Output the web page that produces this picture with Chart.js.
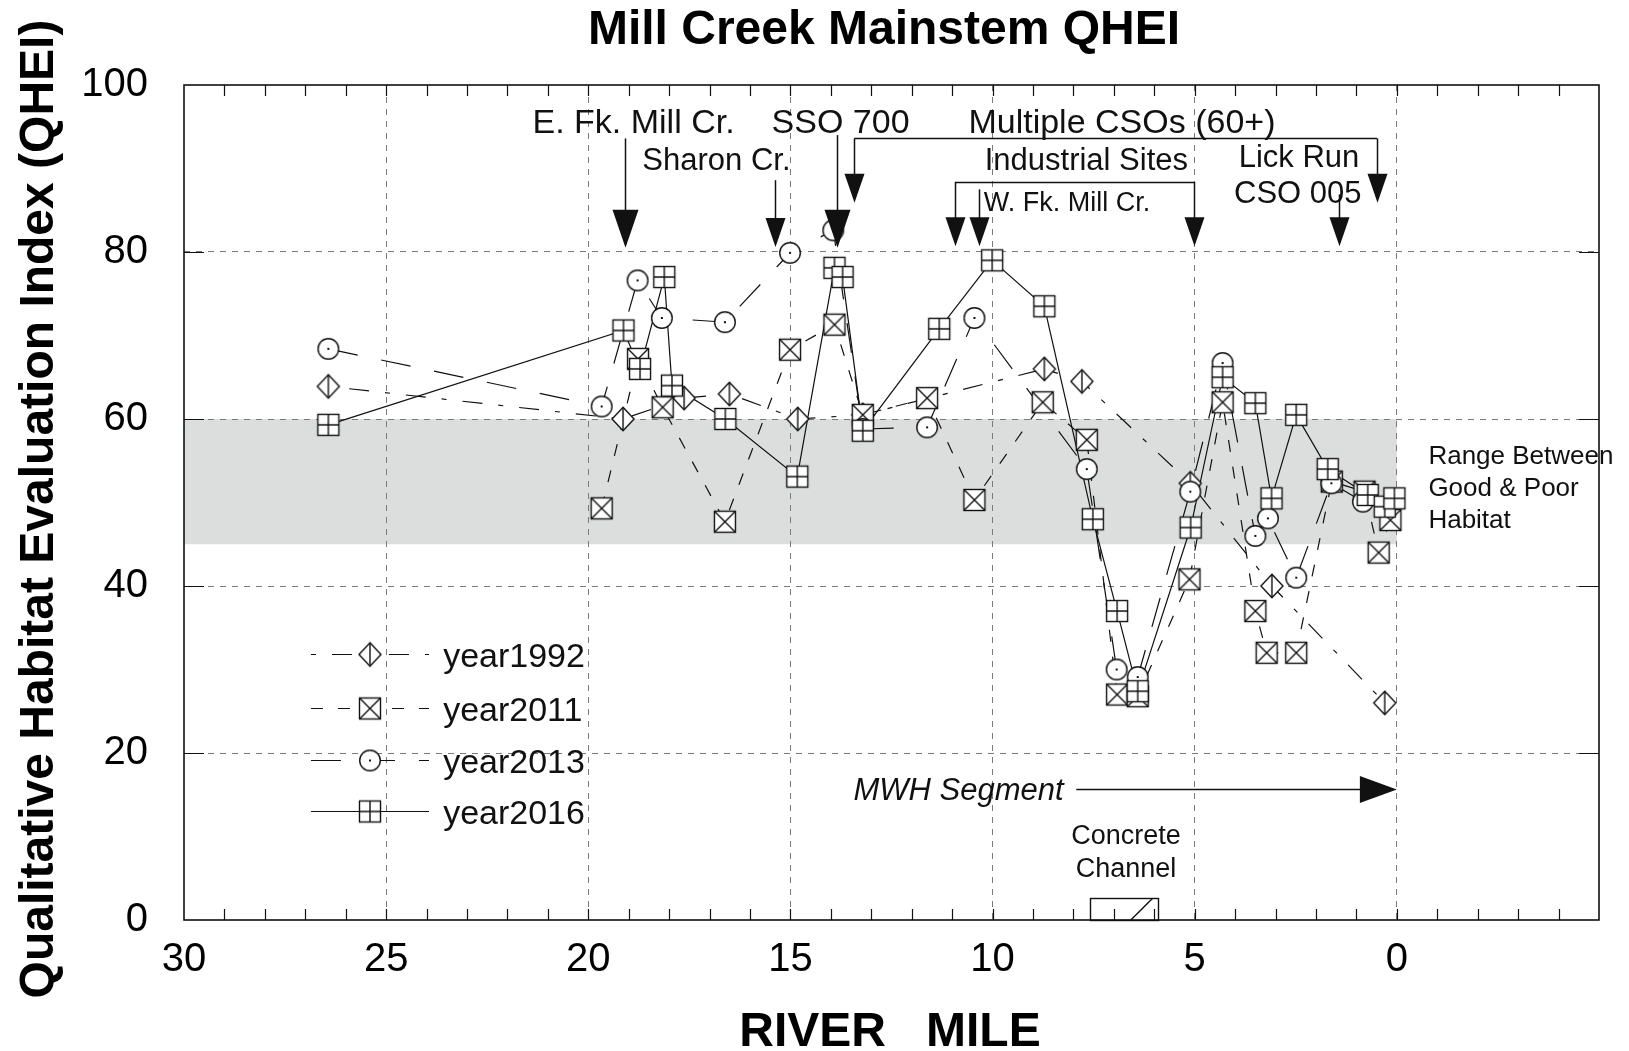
<!DOCTYPE html>
<html>
<head>
<meta charset="utf-8">
<script src="https://cdn.jsdelivr.net/npm/chart.js@4.4.1/dist/chart.umd.min.js"></script>
<style>
html,body{margin:0;padding:0;background:#fff;}
#wrap{width:1629px;height:1051px;position:relative;}
canvas{display:block;}
</style>
</head>
<body>
<div id="wrap"><canvas id="c" width="1629" height="1051"></canvas></div>
<script>
// ---------------- DATA ----------------
const seriesNames = ['year1992', 'year2011', 'year2013', 'year2016'];

const miles1992 = [26.43, 19.14, 17.63, 16.51, 14.82, 13.21, 8.72, 7.79, 5.11, 3.09, 0.30];
const qhei1992  = [63.9, 60.0, 62.5, 63.0, 60.0, 60.5, 66.0, 64.5, 52.3, 40.0, 26.0];

const miles2011 = [19.67, 18.77, 18.16, 16.62, 15.01, 13.91, 13.21, 11.62, 10.45, 8.76, 7.67, 6.92, 6.41, 5.13, 4.31, 3.50, 3.22, 2.49, 1.61, 0.80, 0.45, 0.16];
const qhei2011  = [49.3, 67.2, 61.4, 47.7, 68.3, 71.3, 60.5, 62.5, 50.3, 62.0, 57.5, 27.0, 26.8, 40.8, 62.0, 37.0, 32.0, 32.0, 52.5, 51.3, 44.0, 47.9];

const miles2013 = [26.43, 19.67, 18.78, 18.18, 16.62, 15.01, 13.94, 13.21, 11.62, 10.45, 7.67, 6.93, 6.41, 5.11, 4.31, 3.50, 3.19, 2.49, 1.62, 0.84];
const qhei2013  = [68.4, 61.5, 76.6, 72.1, 71.6, 79.9, 82.6, 58.8, 59.0, 72.1, 54.0, 30.0, 29.1, 51.3, 66.7, 46.0, 48.1, 41.0, 52.3, 50.1];

const miles2016 = [26.43, 19.13, 18.72, 18.12, 17.93, 16.61, 14.83, 13.91, 13.71, 13.21, 11.32, 10.01, 8.72, 7.52, 6.92, 6.41, 5.10, 4.31, 3.50, 3.10, 2.49, 1.71, 0.72, 0.30, 0.06];
const qhei2016  = [59.3, 70.6, 66.0, 77.0, 64.0, 60.0, 53.1, 78.1, 77.0, 58.6, 70.8, 79.0, 73.5, 48.0, 37.0, 27.4, 47.0, 65.0, 61.9, 50.5, 60.5, 54.0, 50.9, 49.5, 50.5];

const xTickValues = [30, 25, 20, 15, 10, 5, 0];
const yTickValues = [0, 20, 40, 60, 80, 100];

// shaded range between good & poor habitat
const bandMiles = [30, 0];
const bandQhei  = [45, 60];
const bandText  = ['Range Between', 'Good & Poor', 'Habitat'];

// annotations (river mile / QHEI units)
const noteTexts  = ['E. Fk. Mill Cr.', 'SSO 700', 'Multiple CSOs (60+)', 'Sharon Cr.', 'Industrial Sites', 'W. Fk. Mill Cr.', 'Lick Run', 'CSO 005'];
const noteMiles  = [18.88, 13.76, 6.80, 16.83, 7.68, 8.16, 2.42, 2.45];
const noteLevels = [94.2, 94.2, 94.2, 89.8, 89.8, 84.9, 90.2, 85.9];

const arrowMiles = [19.09, 15.39, 13.85, 13.42, 0.49, 10.93, 5.01, 10.33, 1.43];
const arrowTops  = [93.6, 88.6, 94.0, 93.6, 93.6, 88.4, 88.4, 87.5, 86.9];
const arrowTips  = [80.5, 80.6, 80.5, 85.9, 85.9, 80.7, 80.7, 80.7, 80.7];
const bracketFrom = [13.42, 10.93];
const bracketTo   = [0.49, 5.01];
const bracketLevel = [93.6, 88.4];

const mwhText = 'MWH Segment';
const mwhTextMile = 10.84, mwhArrowFrom = 7.93, mwhArrowTo = 0, mwhLevel = 15.7;
const concreteText = ['Concrete', 'Channel'];
const concreteTextMile = 6.70, concreteTextLevels = [10.0, 6.0];
const concreteBoxMiles = [7.58, 5.91], concreteBoxQhei = [0, 2.6];
const concreteDiagMiles = [6.58, 6.04];

// ---------------- STYLE ----------------
const FONT = '"Liberation Sans", Arial, Helvetica, sans-serif';
const markerKinds = ['diamond', 'xsquare', 'circle', 'plussquare'];
const dashes = [[5, 16, 20, 16], [12, 15], [30, 24], []];
const legendRows = [31.8, 25.4, 19.2, 13.0];
const legendLine = [26.86, 23.94], legendMarkerMile = 25.4, legendTextMile = 23.59;

function drawMarker(g, kind, cx, cy) {
  g.save();
  g.translate(cx, cy);
  g.setLineDash([]);
  g.lineWidth = 1.4;
  g.strokeStyle = '#111';
  g.fillStyle = '#fff';
  if (kind === 'diamond') {
    const w = 11, h = 11.8;
    g.beginPath(); g.moveTo(0, -h); g.lineTo(w, 0); g.lineTo(0, h); g.lineTo(-w, 0); g.closePath();
    g.fill(); g.stroke();
    g.beginPath(); g.moveTo(0, -h); g.lineTo(0, h); g.stroke();
  } else if (kind === 'xsquare' || kind === 'plussquare') {
    const r = 10.5;
    g.fillRect(-r, -r, 2 * r, 2 * r); g.strokeRect(-r, -r, 2 * r, 2 * r);
    g.beginPath();
    if (kind === 'xsquare') { g.moveTo(-r, -r); g.lineTo(r, r); g.moveTo(r, -r); g.lineTo(-r, r); }
    else { g.moveTo(0, -r); g.lineTo(0, r); g.moveTo(-r, 0); g.lineTo(r, 0); }
    g.stroke();
  } else if (kind === 'circle') {
    g.beginPath(); g.arc(0, 0, 10.3, 0, Math.PI * 2); g.fill(); g.stroke();
    g.fillStyle = '#111'; g.fillRect(-1, -1, 2, 2);
  }
  g.restore();
}
function markerCanvas(kind) {
  const c = document.createElement('canvas');
  c.width = 30; c.height = 30;
  drawMarker(c.getContext('2d'), kind, 15, 15);
  return c;
}
const markerImgs = markerKinds.map(markerCanvas);

const milesAll = [miles1992, miles2011, miles2013, miles2016];
const qheiAll = [qhei1992, qhei2011, qhei2013, qhei2016];
const pts = milesAll.map((ms, i) => ms.map((m, j) => ({ x: m, y: qheiAll[i][j] })));

const datasets = [];
seriesNames.forEach((name, i) => {
  datasets.push({
    label: name + ' line', data: pts[i], showLine: true, borderColor: '#111', borderWidth: 1.2,
    borderDash: dashes[i], pointRadius: 0, pointHoverRadius: 0, tension: 0, fill: false, order: 20 + i
  });
});
seriesNames.forEach((name, i) => {
  datasets.push({
    label: name, data: pts[i], showLine: false, pointStyle: markerImgs[i], pointRadius: 11,
    pointHoverRadius: 11, order: 3 - i
  });
});

function arrowDown(ctx, x, yTop, yTip, hw, hh) {
  ctx.beginPath(); ctx.moveTo(x, yTop); ctx.lineTo(x, yTip - hh + 2); ctx.stroke();
  ctx.beginPath(); ctx.moveTo(x - hw / 2, yTip - hh); ctx.lineTo(x + hw / 2, yTip - hh); ctx.lineTo(x, yTip); ctx.closePath(); ctx.fill();
}

const decor = {
  id: 'decor',
  beforeDraw(chart) {
    const ctx = chart.ctx, xs = chart.scales.x, ys = chart.scales.y;
    ctx.save();
    ctx.fillStyle = '#fff'; ctx.fillRect(0, 0, chart.width, chart.height);
    const xa = xs.getPixelForValue(bandMiles[0]), xb = xs.getPixelForValue(bandMiles[1]);
    const ya = ys.getPixelForValue(bandQhei[1]), yb = ys.getPixelForValue(bandQhei[0]);
    ctx.fillStyle = '#dcdddd';
    ctx.fillRect(Math.min(xa, xb), ya, Math.abs(xb - xa), yb - ya);
    ctx.restore();
  },
  afterDatasetsDraw(chart) {
    const ctx = chart.ctx, a = chart.chartArea, xs = chart.scales.x, ys = chart.scales.y;
    const X = v => xs.getPixelForValue(v), Y = v => ys.getPixelForValue(v);
    ctx.save();
    ctx.strokeStyle = '#111'; ctx.fillStyle = '#000'; ctx.setLineDash([]);
    // frame
    ctx.lineWidth = 1.6;
    ctx.strokeRect(a.left, a.top, a.right - a.left, a.bottom - a.top);
    // minor ticks every mile, inward, top & bottom
    ctx.lineWidth = 1.2;
    ctx.beginPath();
    for (let m = xs.min + 1; m < xs.max; m++) {
      const px = Math.round(X(m)) + 0.5;
      ctx.moveTo(px, a.bottom); ctx.lineTo(px, a.bottom - 11);
      ctx.moveTo(px, a.top); ctx.lineTo(px, a.top + 11);
    }
    yTickValues.forEach(v => {
      if (v <= ys.min || v >= ys.max) return;
      const py = Math.round(Y(v)) + 0.5;
      ctx.moveTo(a.left, py); ctx.lineTo(a.left + 20, py);
      ctx.moveTo(a.right, py); ctx.lineTo(a.right - 20, py);
    });
    ctx.stroke();

    // band text
    ctx.fillStyle = '#111';
    ctx.font = '26px ' + FONT; ctx.textAlign = 'left'; ctx.textBaseline = 'alphabetic';
    const bandLevels = [54.65, 50.8, 47.0];
    bandText.forEach((t, i) => ctx.fillText(t, X(-0.78), Y(bandLevels[i])));

    // arrows
    ctx.lineWidth = 1.5;
    arrowMiles.forEach((m, i) => {
      const big = (i === 0 || i === 2);
      arrowDown(ctx, Math.round(X(m)) + 0.5, Y(arrowTops[i]), Y(arrowTips[i]), big ? 26 : 20, big ? 38 : 29);
    });
    ctx.beginPath();
    bracketFrom.forEach((m, i) => {
      const py = Math.round(Y(bracketLevel[i])) + 0.5;
      ctx.moveTo(X(m), py); ctx.lineTo(X(bracketTo[i]), py);
    });
    ctx.stroke();

    // annotation texts
    ctx.textAlign = 'center';
    const sizes = [34, 34, 34, 31, 31, 27, 31, 31];
    noteTexts.forEach((t, i) => {
      ctx.font = sizes[i] + 'px ' + FONT;
      ctx.fillText(t, X(noteMiles[i]), Y(noteLevels[i]));
    });

    // MWH segment
    ctx.font = 'italic 31px ' + FONT;
    ctx.fillText(mwhText, X(mwhTextMile), Y(mwhLevel) + 11);
    const my = Math.round(Y(mwhLevel)) + 0.5, tipX = X(mwhArrowTo);
    ctx.beginPath(); ctx.moveTo(X(mwhArrowFrom), my); ctx.lineTo(tipX - 35, my); ctx.stroke();
    ctx.beginPath(); ctx.moveTo(tipX - 37, my - 13.5); ctx.lineTo(tipX, my); ctx.lineTo(tipX - 37, my + 13.5); ctx.closePath(); ctx.fill();

    // concrete channel
    ctx.font = '27px ' + FONT; ctx.textBaseline = 'middle';
    concreteText.forEach((t, i) => ctx.fillText(t, X(concreteTextMile), Y(concreteTextLevels[i])));
    ctx.lineWidth = 1.4;
    const bx0 = X(concreteBoxMiles[0]), bx1 = X(concreteBoxMiles[1]);
    const by0 = Y(concreteBoxQhei[1]), by1 = Y(concreteBoxQhei[0]);
    ctx.strokeRect(Math.round(bx0) + 0.5, Math.round(by0) + 0.5, Math.round(bx1 - bx0), Math.round(by1 - by0));
    ctx.beginPath(); ctx.moveTo(X(concreteDiagMiles[0]), by1); ctx.lineTo(X(concreteDiagMiles[1]), by0); ctx.stroke();

    // legend
    ctx.textAlign = 'left'; ctx.textBaseline = 'alphabetic'; ctx.font = '34px ' + FONT;
    seriesNames.forEach((name, i) => {
      const py = Math.round(Y(legendRows[i])) + 0.5;
      ctx.save();
      ctx.lineWidth = 1.2; ctx.setLineDash(dashes[i]);
      ctx.beginPath(); ctx.moveTo(X(legendLine[0]), py); ctx.lineTo(X(legendLine[1]), py); ctx.stroke();
      ctx.restore();
      ctx.drawImage(markerImgs[i], X(legendMarkerMile) - 15, py - 15);
      ctx.fillText(name, X(legendTextMile), py + 12);
    });
    ctx.restore();
  },
  afterDraw(chart) {
    const ctx = chart.ctx;
    ctx.save();
    ctx.fillStyle = '#000';
    ctx.textAlign = 'center'; ctx.textBaseline = 'alphabetic';
    ctx.font = 'bold 48px ' + FONT;
    ctx.fillText('Mill Creek Mainstem QHEI', 884, 44);
    ctx.fillText('RIVER   MILE', 890, 1046);
    ctx.translate(53, 509); ctx.rotate(-Math.PI / 2);
    ctx.fillText('Qualitative Habitat Evaluation Index (QHEI)', 0, 0);
    ctx.restore();
  }
};

const gridColor = (lo, hi) => (c) => (c.tick && c.tick.value >= lo && c.tick.value <= hi) ? '#7a7a7a' : 'rgba(0,0,0,0)';

new Chart(document.getElementById('c'), {
  type: 'scatter',
  data: { datasets },
  options: {
    responsive: false, animation: false, devicePixelRatio: 1,
    layout: { padding: { top: 85, right: 30, left: 0, bottom: 0 } },
    plugins: { legend: { display: false }, tooltip: { enabled: false }, title: { display: false } },
    events: [],
    scales: {
      x: {
        type: 'linear', min: -5, max: 30, reverse: true, position: 'bottom',
        afterBuildTicks: s => { s.ticks = [-5].concat(xTickValues.slice().reverse()).map(v => ({ value: v })); },
        ticks: { callback: v => (v < 0 ? '' : String(v)), font: { family: FONT, size: 40 }, color: '#000', padding: 16, maxRotation: 0, autoSkip: false },
        grid: { color: gridColor(0, 25), lineWidth: 1, drawTicks: false },
        border: { display: false, dash: [6, 6] },
        afterFit: s => { s.height = 131; }
      },
      y: {
        type: 'linear', min: 0, max: 100, position: 'left',
        afterBuildTicks: s => { s.ticks = yTickValues.map(v => ({ value: v })); },
        ticks: { font: { family: FONT, size: 40 }, color: '#000', padding: 36 },
        grid: { color: gridColor(20, 80), lineWidth: 1, drawTicks: false },
        border: { display: false, dash: [6, 6] },
        afterFit: s => { s.width = 184; }
      }
    }
  },
  plugins: [decor]
});
</script>
</body>
</html>
